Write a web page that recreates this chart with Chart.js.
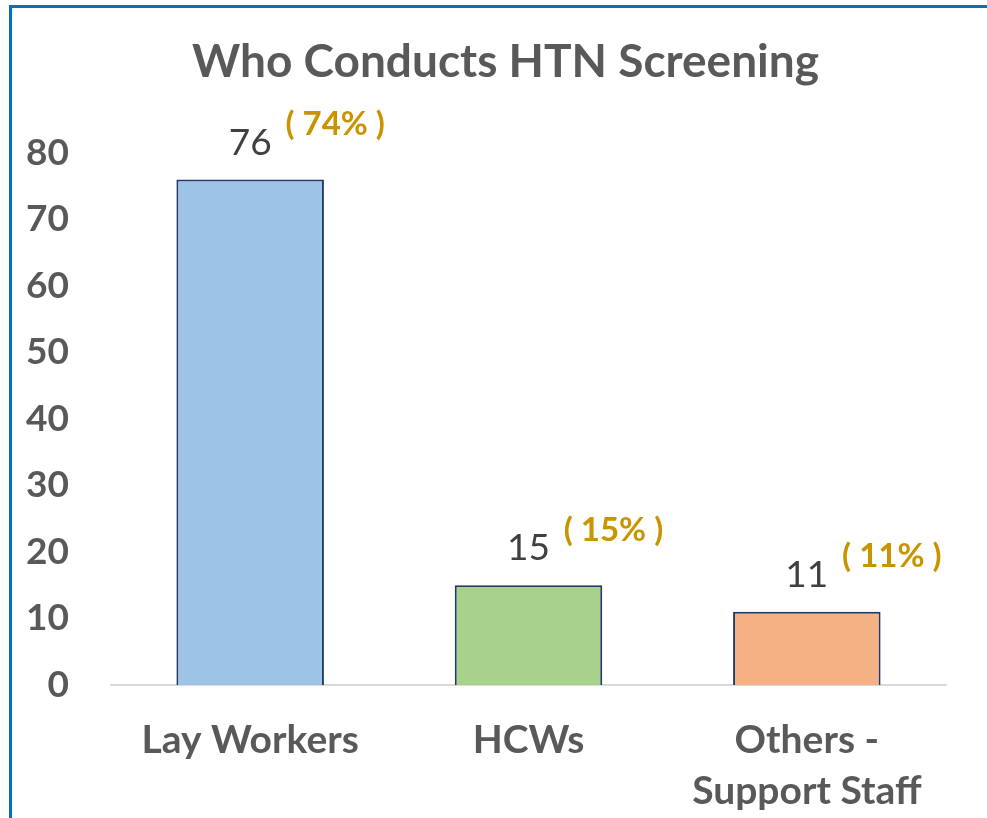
<!DOCTYPE html>
<html>
<head>
<meta charset="utf-8">
<script src="https://cdn.jsdelivr.net/npm/chart.js@4.4.0/dist/chart.umd.min.js"></script>
<style>
  html, body { margin: 0; padding: 0; background: #fff; overflow: hidden; }
  #frame {
    position: absolute; left: 9px; top: 5px; width: 1100px; height: 900px;
    border: 3px solid #0070C0; box-sizing: border-box;
  }
  #wrap { position: absolute; left: 0; top: 0; width: 987px; height: 818px; }
</style>
</head>
<body>
<div id="frame"></div>
<div id="wrap"><canvas id="myChart"></canvas></div>
<script>
/* data */
var title = 'Who Conducts HTN Screening';
var categories = ['Lay Workers', 'HCWs', ['Others -', 'Support Staff']];
var counts = [76, 15, 11];
var percents = ['( 74% )', '( 15% )', '( 11% )'];
var yTicks = [0, 10, 20, 30, 40, 50, 60, 70, 80];

var barColors = ['#9DC3E6', '#A9D18E', '#F4B183'];
var textGrey = '#595959';
var FONT = 'Lato, "Open Sans", sans-serif';

/* title + numbers above the bars + the percent next to them */
var valueLabels = {
    id: 'valueLabels',
    afterDatasetsDraw: function(chart) {
        var ctx = chart.ctx;
        var meta = chart.getDatasetMeta(0);
        ctx.save();
        ctx.textAlign = 'center';
        ctx.textBaseline = 'middle';

        ctx.font = 'bold 46px ' + FONT;
        ctx.fillStyle = textGrey;
        ctx.fillText(title, chart.width / 2 + 12, 62);

        meta.data.forEach(function(bar, i) {
            var y = bar.y - 37;
            ctx.font = '37px ' + FONT;
            ctx.fillStyle = '#404040';
            ctx.fillText(counts[i], bar.x, y);
            ctx.font = 'bold 33px ' + FONT;
            ctx.fillStyle = '#C99400';
            ctx.fillText(percents[i], bar.x + 85, y - 18);
        });
        ctx.restore();
    }
};

var ctx = document.getElementById('myChart').getContext('2d');
var chart = new Chart(ctx, {
    type: 'bar',
    data: {
        labels: categories,
        datasets: [{
            data: counts,
            backgroundColor: barColors,
            borderColor: '#1F3864',
            borderWidth: 2,
            borderSkipped: 'bottom',
            categoryPercentage: 1,
            barPercentage: 0.53
        }]
    },
    options: {
        responsive: true,
        maintainAspectRatio: false,
        animation: false,
        layout: { padding: { left: 0, right: 41, top: 153, bottom: 2 } },
        plugins: {
            legend: { display: false },
            tooltip: { enabled: false },
            title: { display: false }
        },
        scales: {
            x: {
                afterFit: function(scale) { scale.height = 131; },
                grid: { display: false, drawTicks: false },
                border: { display: true, color: '#D9D9D9', width: 2 },
                ticks: {
                    color: textGrey,
                    padding: 29,
                    maxRotation: 0,
                    font: { family: FONT, size: 39, weight: 'bold', lineHeight: 1.33 }
                }
            },
            y: {
                min: 0,
                max: 80,
                afterFit: function(scale) { scale.width = 111; },
                afterBuildTicks: function(scale) {
                    scale.ticks = yTicks.map(function(v) { return { value: v }; });
                },
                grid: { display: false, drawTicks: false },
                border: { display: false },
                ticks: {
                    color: textGrey,
                    padding: 42,
                    font: { family: FONT, size: 37, weight: 'bold' }
                }
            }
        }
    },
    plugins: [valueLabels]
});
</script>
</body>
</html>
